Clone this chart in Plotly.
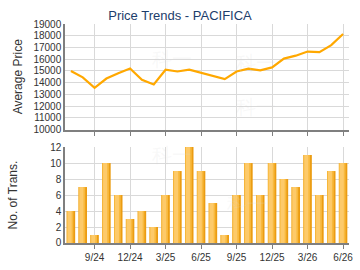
import plotly.graph_objects as go
from plotly.subplots import make_subplots

months = ["7/24","8/24","9/24","10/24","11/24","12/24","1/25","2/25","3/25","4/25","5/25","6/25",
          "7/25","8/25","9/25","10/25","11/25","12/25","1/26","2/26","3/26","4/26","5/26","6/26"]
avg_price = [15000,14450,13550,14350,14800,15200,14250,13850,15100,14950,15100,14850,
             14550,14300,14950,15200,15050,15300,16050,16300,16650,16600,17200,18150]
transactions = [4,7,1,10,6,3,4,2,6,9,12,9,5,1,6,10,6,10,8,7,11,6,9,10]
tick_labels = ["9/24","12/24","3/25","6/25","9/25","12/25","3/26","6/26"]
price_ticks = list(range(10000, 19001, 1000))
trans_ticks = [0,2,4,6,8,10,12]

x = list(range(len(months)))
tickvals = [months.index(t) for t in tick_labels]

fig = make_subplots(rows=2, cols=1, shared_xaxes=False, vertical_spacing=0.08)

fig.add_trace(go.Scatter(x=x, y=avg_price, mode="lines",
                         line=dict(color="#ffa800", width=2.2), hoverinfo="skip"), row=1, col=1)

# bars with a simulated left-to-right gradient
layers = [
    (0.72, 0.0, "#eb9c12"),
    (0.56, -0.07, "#f8b93e"),
    (0.34, -0.11, "#fdca6a"),
]
for w, off, col in layers:
    fig.add_trace(go.Bar(x=[v + off for v in x], y=transactions, width=w,
                         marker=dict(color=col, line=dict(width=0)), hoverinfo="skip"),
                  row=2, col=1)

fig.update_layout(
    width=360, height=270, margin=dict(l=65, r=7, t=24, b=26),
    paper_bgcolor="white", plot_bgcolor="white", showlegend=False, barmode="overlay",
    font=dict(family="Liberation Sans, Arial, sans-serif", size=10, color="#333333"),
    title=dict(text="Price Trends - PACIFICA", x=0.5, xanchor="center", y=0.944, yanchor="middle",
               font=dict(size=13, color="#1c3d6b")),
)

xcommon = dict(range=[-0.5, 23.5], tickmode="array", tickvals=tickvals, showgrid=True,
               gridcolor="#d9d9d9", gridwidth=1.3, showline=True, linecolor="#7f7f7f", linewidth=2,
               ticks="outside", ticklen=4, tickcolor="#7f7f7f", zeroline=False)
fig.update_xaxes(**xcommon, showticklabels=False, row=1, col=1)
fig.update_xaxes(**xcommon, ticktext=tick_labels, showticklabels=True,
                 tickfont=dict(size=10, color="#333333"), row=2, col=1)

ycommon = dict(showgrid=True, gridcolor="#d9d9d9", gridwidth=1.3, showline=True,
               linecolor="#7f7f7f", linewidth=1.5, zeroline=False, ticks="", ticklen=0,
               tickmode="array", tickfont=dict(size=10, color="#333333"))
fig.update_yaxes(**ycommon, range=[10000, 19000], tickvals=price_ticks,
                 ticktext=[str(v) for v in price_ticks],
                 title=dict(text="Average Price", font=dict(size=12, color="#333333"), standoff=8),
                 domain=[0.518, 1.0], row=1, col=1)
fig.update_yaxes(**ycommon, range=[0, 12], tickvals=trans_ticks,
                 ticktext=[str(v) for v in trans_ticks],
                 title=dict(text="No. of Trans.", font=dict(size=12, color="#333333"), standoff=30),
                 domain=[0.0, 0.438], row=2, col=1)

# faint watermarks
for xp, yp in [(0.3, 0.9), (0.75, 0.62), (0.3, 0.4), (0.72, 0.12), (0.75, 0.88)]:
    fig.add_annotation(text="科一", x=xp, y=yp, xref="paper", yref="paper", showarrow=False,
                       font=dict(size=20, color="rgba(215,215,215,0.18)"))

fig.write_html("out.html")
